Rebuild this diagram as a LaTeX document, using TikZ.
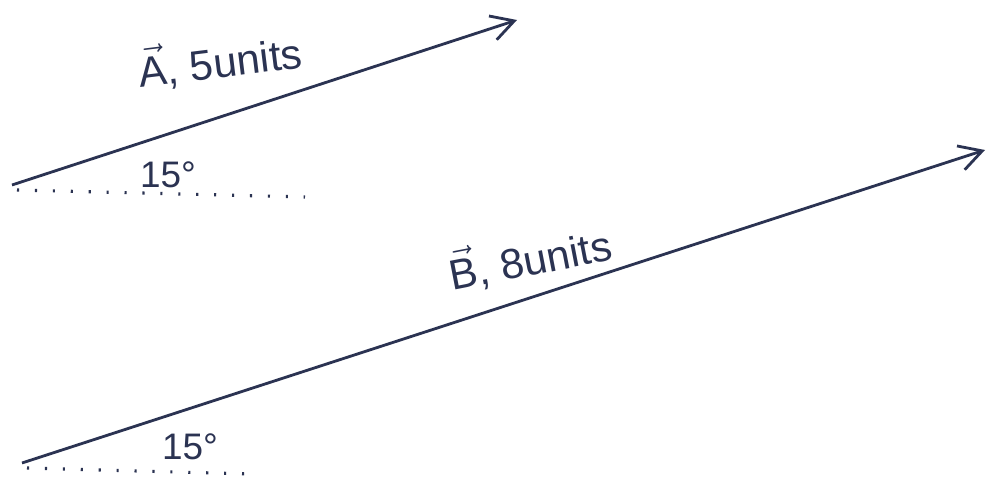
\documentclass[tikz,border=0pt]{standalone}
\usepackage{fontspec}
\setmainfont{Liberation Sans}
\usepackage{tikz}
\usetikzlibrary{positioning,arrows.meta}
\definecolor{inkblue}{HTML}{2B3352}
\tikzset{
  vecarrow/.style={-{Straight Barb[length=4.5mm, width=5mm, line width=1.6pt]}, line width=1.6pt, draw=inkblue},
  dotline/.style={draw=inkblue, line width=1.8pt, dash pattern=on 1.2pt off 9pt},
  veclabel/.style={text=inkblue, font=\fontsize{24}{28}\selectfont, inner sep=0pt},
  anglelabel/.style={text=inkblue, font=\fontsize{21}{24}\selectfont, inner sep=0pt}
}

\begin{document}
\begin{tikzpicture}
  \useasboundingbox (0,0) rectangle (19.82,9.7);
  % vector A
  \coordinate (a0) at (0.24,6.0);
  \coordinate (a1) at (10.34,9.3);
  \coordinate (ad) at (6.1,5.76);
  \draw[vecarrow] (a0) -- (a1);
  \draw[dotline] (a0) ++(0.1,-0.1) coordinate (as) (as) -- (ad);
  \node[veclabel, rotate=7] (labA) at (4.4,8.5) {$\vec{\mbox{A}}$,\ 5units};
  \node[anglelabel] (angA) at (3.36,6.2) {15°};
  % vector B
  \coordinate (b0) at (0.44,0.44);
  \coordinate (b1) at (19.7,6.7);
  \coordinate (bd) at (5.0,0.22);
  \draw[vecarrow] (b0) -- (b1);
  \draw[dotline] (b0) ++(0.1,-0.1) coordinate (bs) (bs) -- (bd);
  \node[veclabel, rotate=11] (labB) at (10.6,4.55) {$\vec{\mbox{B}}$,\ 8units};
  \node[anglelabel] (angB) at (3.8,0.76) {15°};
\end{tikzpicture}
\end{document}
